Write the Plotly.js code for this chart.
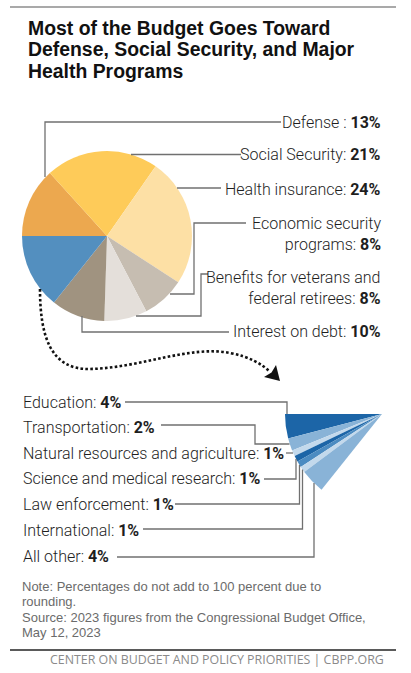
<!DOCTYPE html>
<html>
<head>
<meta charset="utf-8">
<script src="https://cdn.plot.ly/plotly-3.0.1.min.js"></script>
<style>
  html, body { margin: 0; padding: 0; overflow: hidden; background: #ffffff; }
  #chart { width: 500px; height: 673px; }
</style>
</head>
<body>
<div id="chart"></div>
<script>
// Shares of 2023 federal spending, percent
const mainCategories = ['Defense', 'Social Security', 'Health insurance', 'Economic security programs',
  'Benefits for veterans and federal retirees', 'Interest on debt'];
const mainLabelText = ['Defense :', 'Social Security:', 'Health insurance:', 'Economic security<br>programs:',
  'Benefits for veterans and<br>federal retirees:', 'Interest on debt:'];
const mainShares = [13, 21, 24, 8, 8, 10];

const otherCategories = ['Education', 'Transportation', 'Natural resources and agriculture',
  'Science and medical research', 'Law enforcement', 'International', 'All other'];
const otherShares = [4, 2, 1, 1, 1, 1, 4];

const titleLines = ['Most of the Budget Goes Toward', 'Defense, Social Security, and Major', 'Health Programs'];
const noteLines = ['Note: Percentages do not add to 100 percent due to', 'rounding.',
  'Source: 2023 figures from the Congressional Budget Office,', 'May 12, 2023'];
const footerText = 'CENTER ON BUDGET AND POLICY PRIORITIES | CBPP.ORG';

// Canvas is a little wider than the view so the exploded wedge can sit on its full circle
const W = 500, H = 673;
const X = px => px / W;
const Y = py => 1 - py / H;
const pt = (x, y) => X(x).toFixed(5) + ',' + Y(y).toFixed(5);
const poly = pts => 'M' + pts.map(p => pt(p[0], p[1])).join(' L');
const domainFor = (cx, cy, r) => ({ x: [X(cx - r), X(cx + r)], y: [Y(cy + r), Y(cy - r)] });

const otherTotal = otherShares.reduce((a, b) => a + b, 0);
const mainTotal = mainShares.reduce((a, b) => a + b, 0);

const mainColors = ['#eca84f', '#fecb59', '#fde0a5', '#c6bdb1', '#e4dfda', '#a09380', '#538fbf'];
const fanColors = ['#1c65a7', '#89b3d7', '#c3d9ec', '#1c65a7', '#4b8bc1', '#c3d9ec', '#89b3d7'];

const budgetPie = {
  type: 'pie',
  labels: mainCategories.concat(['Everything else']),
  values: mainShares.concat([otherTotal]),
  sort: false,
  direction: 'clockwise',
  rotation: -90,
  marker: { colors: mainColors, line: { width: 0 } },
  textinfo: 'none',
  hoverinfo: 'skip',
  showlegend: false,
  domain: domainFor(107, 236, 85)
};

// The "everything else" slice blown up; the rest of its circle is a transparent slice
// placed first, so the detail slices run counterclockwise from 9 o'clock
const detailPie = {
  type: 'pie',
  labels: ['Rest of budget'].concat(otherCategories),
  values: [mainTotal].concat(otherShares),
  sort: false,
  direction: 'counterclockwise',
  rotation: -90,
  marker: { colors: ['rgba(0,0,0,0)'].concat(fanColors), line: { width: 0 } },
  textinfo: 'none',
  hoverinfo: 'skip',
  showlegend: false,
  domain: domainFor(382, 414, 97)
};

const leader = { color: '#707070', width: 1.3 };
const lineShape = pts => ({ type: 'path', xref: 'paper', yref: 'paper', path: poly(pts), line: leader, layer: 'above' });

const shapes = [
  // top and bottom rules
  { type: 'line', xref: 'paper', yref: 'paper', x0: X(10), x1: X(396), y0: Y(7), y1: Y(7), line: { color: '#8c8c8c', width: 1.5 } },
  { type: 'line', xref: 'paper', yref: 'paper', x0: X(10), x1: X(396), y0: Y(650), y1: Y(650), line: { color: '#5a5a5a', width: 2 } },
  // leaders for the main pie
  lineShape([[45, 177], [45, 122], [281, 122]]),
  lineShape([[131, 154.5], [241, 154.5]]),
  lineShape([[177, 188], [221, 188]]),
  lineShape([[170, 294], [194, 294], [194, 223], [246, 223]]),
  lineShape([[136, 316], [201, 316], [201, 274], [208, 274]]),
  lineShape([[82, 316], [82, 332], [229, 332]]),
  // leaders for the detail wedge
  lineShape([[125, 402], [287, 402], [287, 414]]),
  lineShape([[161, 425], [255, 425], [255, 444], [289.5, 444]]),
  lineShape([[286, 453], [293, 453]]),
  lineShape([[264, 479], [296, 479], [296, 459]]),
  lineShape([[175, 504], [299.5, 504], [299.5, 465]]),
  lineShape([[143, 529], [302.5, 529], [302.5, 469.6]]),
  lineShape([[117, 557], [314, 557], [314, 483]]),
  // dotted connector from the pie to the wedge
  {
    type: 'path', xref: 'paper', yref: 'paper', layer: 'above',
    path: 'M' + pt(40, 289) + ' C' + pt(40, 335) + ' ' + pt(50, 370) + ' ' + pt(90, 369) +
      ' C' + pt(140, 368) + ' ' + pt(190, 345) + ' ' + pt(230, 353) +
      ' C' + pt(250, 357) + ' ' + pt(262, 364) + ' ' + pt(270, 372),
    line: { color: '#111111', width: 2.6, dash: '2.6px,2.3px' }
  },
  {
    type: 'path', xref: 'paper', yref: 'paper', layer: 'above',
    path: 'M' + pt(280, 381) + ' L' + pt(264, 377) + ' L' + pt(271.5, 372.5) + ' L' + pt(276, 365) + ' Z',
    fillcolor: '#111111', line: { width: 0 }
  }
];

const labelFont = { family: 'Roboto, sans-serif', size: 16, color: '#1e1e1e', weight: 300 };
const ann = (x, y, text, xanchor, font) => ({
  xref: 'paper', yref: 'paper', x: X(x), y: Y(y), text: text, xanchor: xanchor, yanchor: 'middle',
  showarrow: false, font: font, align: xanchor === 'right' ? 'right' : 'left', borderpad: 0
});

const annotations = [];
const titleFont = { family: '"Liberation Sans", Arial, sans-serif', size: 19.4, color: '#111111', weight: 700 };
[27.8, 49.5, 71.2].forEach((y, i) => annotations.push(ann(27, y, titleLines[i], 'left', titleFont)));

const mainLabelY = [122, 155, 189, 233.5, 287.5, 331];
mainLabelText.forEach((t, i) =>
  annotations.push(ann(382, mainLabelY[i], t + ' <b>' + mainShares[i] + '%</b>', 'right', labelFont)));

const otherLabelY = [402, 427, 453, 478, 504, 530, 556];
otherCategories.forEach((c, i) =>
  annotations.push(ann(22, otherLabelY[i], c + ': <b>' + otherShares[i] + '%</b>', 'left', labelFont)));

const noteFont = { family: '"Liberation Sans", Arial, sans-serif', size: 13, color: '#6b6b6b' };
[586, 601.5, 617, 632.5].forEach((y, i) => annotations.push(ann(21, y, noteLines[i], 'left', noteFont)));

annotations.push(ann(385, 659.5, footerText, 'right', { family: '"Open Sans", sans-serif', size: 12.4, color: '#8a8a8a' }));

Plotly.newPlot('chart', [budgetPie, detailPie], {
  width: W, height: H,
  margin: { l: 0, r: 0, t: 0, b: 0 },
  paper_bgcolor: '#ffffff',
  showlegend: false,
  shapes: shapes,
  annotations: annotations
}, { displayModeBar: false, staticPlot: true });
</script>
</body>
</html>
